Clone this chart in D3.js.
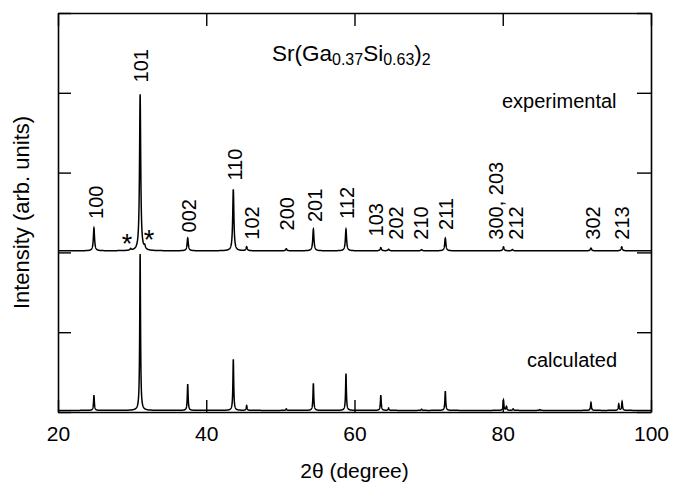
<!DOCTYPE html>
<html><head><meta charset="utf-8">
<script src="https://cdn.jsdelivr.net/npm/d3@7"></script>
<style>
body{margin:0;background:#fff}
text{font-family:"Liberation Sans",Arial,Helvetica,sans-serif;fill:#000}
</style>
</head><body>
<svg id="c" width="683" height="485"></svg>
<script>
// ---- data ----
const expPeakPos     = [24.85, 29.8, 31.08, 31.7, 37.5, 43.65, 45.45, 50.8, 54.45, 58.85, 63.55, 64.6, 69.05, 72.25, 80.1, 81.3, 91.9, 96.05];
const expPeakHeight  = [0.285, 0.02, 1.96, 0.04, 0.16, 0.77, 0.05, 0.025, 0.27, 0.27, 0.04, 0.02, 0.015, 0.16, 0.05, 0.015, 0.035, 0.05];
const calcPeakPos    = [24.85, 31.08, 37.5, 43.65, 45.45, 50.8, 54.45, 58.85, 63.55, 64.6, 69.05, 72.25, 80.1, 80.5, 81.4, 85.0, 91.9, 95.65, 96.1];
const calcPeakHeight = [0.19, 1.96, 0.33, 0.64, 0.06, 0.02, 0.34, 0.46, 0.19, 0.03, 0.015, 0.24, 0.13, 0.05, 0.02, 0.01, 0.1, 0.08, 0.11];
const expOffset = 2.02;
const calcOffset = 0.02;
const hklLabels = ["100","101","002","110","102","200","201","112","103","202","210","211","300, 203","212","302","213"];
const hklLabelPos = [26.03, 32.18, 38.62, 44.78, 47.16, 51.84, 55.58, 59.97, 63.8, 66.5, 69.96, 73.33, 80.07, 82.77, 93.12, 97.07];
const hklLabelLevel = [2.42, 4.13, 2.25, 2.9, 2.16, 2.275, 2.38, 2.42, 2.2, 2.16, 2.16, 2.28, 2.16, 2.16, 2.16, 2.16];
const starPos = [29.31, 32.28];
const starLevel = [1.99, 2.04];
const xTicks = [20, 40, 60, 80, 100];
const yTicks = [0, 1, 2, 3, 4, 5];

// ---- layout ----
const L = 58, R = 651, T = 13, B = 412;
const svg = d3.select("#c");
const x = d3.scaleLinear().domain([20, 100]).range([L, R]);
const y = d3.scaleLinear().domain([0, 5]).range([B, T]);

function profile(pos, hts, off, g) {
  const xs = d3.range(2000, 10001).map(i => i / 100);
  return xs.map(t => {
    let s = off;
    for (let k = 0; k < pos.length; k++) {
      const u = (t - pos[k]) / g;
      s += hts[k] / (1 + u * u);
    }
    return [t, s];
  });
}
const line = d3.line().x(d => x(d[0])).y(d => y(d[1]));

svg.append("path").datum(profile(calcPeakPos, calcPeakHeight, calcOffset, 0.065))
  .attr("d", line).attr("fill", "none").attr("stroke", "#000").attr("stroke-width", 1.5);
svg.append("path").datum(profile(expPeakPos, expPeakHeight, expOffset, 0.095))
  .attr("d", line).attr("fill", "none").attr("stroke", "#000").attr("stroke-width", 1.5);

// ---- axes (frame with inward ticks) ----
const axB = svg.append("g").attr("transform", `translate(0,${B})`)
  .call(d3.axisBottom(x).tickValues(xTicks).tickSize(-12).tickSizeOuter(0).tickPadding(14));
const axT = svg.append("g").attr("transform", `translate(0,${T})`)
  .call(d3.axisTop(x).tickValues(xTicks).tickSize(-13).tickSizeOuter(0).tickFormat(""));
const axL = svg.append("g").attr("transform", `translate(${L},0)`)
  .call(d3.axisLeft(y).tickValues(yTicks).tickSize(-13).tickSizeOuter(0).tickFormat(""));
const axRt = svg.append("g").attr("transform", `translate(${R},0)`)
  .call(d3.axisRight(y).tickValues(yTicks).tickSize(-14).tickSizeOuter(0).tickFormat(""));
[axB, axT, axL, axRt].forEach(a => {
  a.selectAll("path.domain").attr("stroke", "#000").attr("stroke-width", 1.6);
  a.selectAll(".tick line").attr("stroke", "#000").attr("stroke-width", 1.4);
});
axB.selectAll(".tick text").attr("font-size", 21).attr("font-family", "Liberation Sans, Arial, sans-serif").attr("fill", "#000");

// ---- axis titles ----
svg.append("text").attr("x", (L + R) / 2).attr("y", 478).attr("text-anchor", "middle")
  .attr("font-size", 21).text("2θ (degree)");
svg.append("text").attr("transform", `translate(29,${(T + B) / 2}) rotate(-90)`)
  .attr("text-anchor", "middle").attr("font-size", 22).text("Intensity (arb. units)");

// ---- peak labels ----
svg.selectAll("text.hkl").data(hklLabels).enter().append("text").attr("class", "hkl")
  .attr("transform", (d, i) => `translate(${x(hklLabelPos[i])},${y(hklLabelLevel[i])}) rotate(-90)`)
  .attr("font-size", 20).text(d => d);
svg.selectAll("text.star").data(starPos).enter().append("text").attr("class", "star")
  .attr("x", d => x(d)).attr("y", (d, i) => y(starLevel[i])).attr("text-anchor", "middle")
  .attr("font-size", 27).text("*");

// ---- annotations ----
const title = svg.append("text").attr("x", 272).attr("y", 61).attr("font-size", 22.5);
title.append("tspan").text("Sr(Ga");
title.append("tspan").attr("font-size", 16).attr("dy", 3.5).text("0.37");
title.append("tspan").attr("dy", -3.5).text("Si");
title.append("tspan").attr("font-size", 16).attr("dy", 3.5).text("0.63");
title.append("tspan").attr("dy", -3.5).text(")");
title.append("tspan").attr("font-size", 16).attr("dy", 3.5).text("2");
svg.append("text").attr("x", 502).attr("y", 108).attr("font-size", 20).text("experimental");
svg.append("text").attr("x", 527).attr("y", 367).attr("font-size", 20).text("calculated");
</script>
</body></html>
